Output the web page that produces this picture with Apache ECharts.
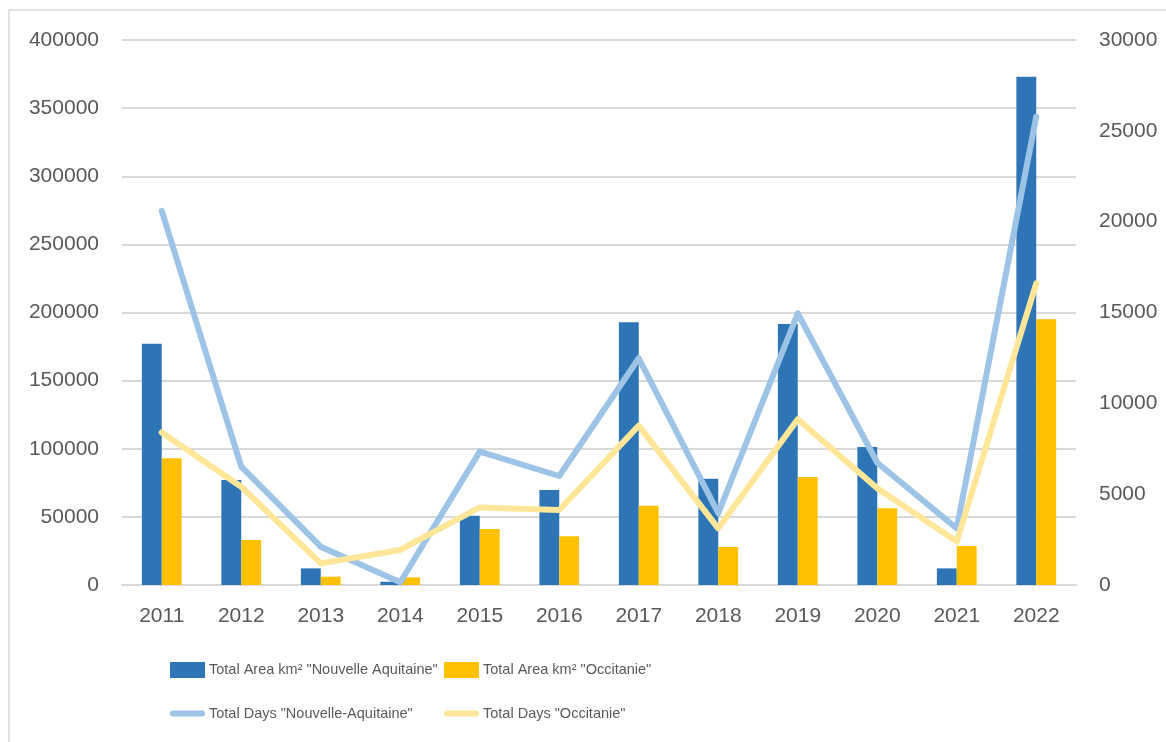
<!DOCTYPE html>
<html>
<head>
<meta charset="utf-8">
<script src="https://cdn.jsdelivr.net/npm/echarts@6/dist/echarts.min.js"></script>
<style>
html,body{margin:0;padding:0;background:#fff;}
#chart{width:1166px;height:742px;}
</style>
</head>
<body>
<div id="chart"></div>
<script>
const years = ['2011','2012','2013','2014','2015','2016','2017','2018','2019','2020','2021','2022'];
const areaNA = [177000, 77000, 12200, 2400, 50900, 69700, 192800, 78000, 191600, 101300, 12200, 373000];
const areaOcc = [93000, 33000, 6100, 5600, 41100, 35700, 58200, 27900, 79300, 56300, 28600, 195000];
const daysNA = [20600, 6510, 2110, 150, 7340, 6000, 12480, 3950, 14950, 6730, 3120, 25780];
const daysOcc = [8400, 5410, 1190, 1930, 4270, 4130, 8770, 3120, 9120, 5320, 2390, 16600];
const leftTicks = [0, 400000, 50000];
const rightTicks = [0, 30000, 5000];

const names = ['Total Area km² "Nouvelle Aquitaine"', 'Total Area km² "Occitanie"', 'Total Days "Nouvelle-Aquitaine"', 'Total Days "Occitanie"'];
const FONT = 'Liberation Sans';
const txt = {color:'#595959', fontFamily:FONT, fontSize:21};
const legTxt = {color:'#595959', fontFamily:FONT, fontSize:14.5};
const capsule = 'path://M3,0 L32,0 A3,3 0 0 1 32,6 L3,6 A3,3 0 0 1 3,0 Z';

const chart = echarts.init(document.getElementById('chart'));
function leg(name, left, top, isLine){
  return {
    data:[{name:name, icon: isLine ? capsule : 'rect'}], left:left, top:top, orient:'horizontal',
    itemWidth:35, itemHeight: isLine ? 6 : 16, itemGap:0,
    textStyle:Object.assign({}, legTxt, {padding:[0,0,0,-1]}),
    selectedMode:false, padding:0
  };
}
chart.setOption({
  animation:false,
  backgroundColor:'#fff',
  graphic:[{type:'rect', shape:{x:9, y:10, width:1300, height:900}, style:{fill:'none', stroke:'#D9D9D9', lineWidth:1.5}, silent:true}],
  grid:{left:122, right:90, top:40, bottom:157},
  legend:[
    leg(names[0], 170, 662, false),
    leg(names[1], 444, 662, false),
    leg(names[2], 170, 706, true),
    leg(names[3], 444, 706, true)
  ],
  xAxis:{
    type:'category', data:years,
    axisLine:{lineStyle:{color:'#D9D9D9', width:2}},
    axisTick:{show:false},
    axisLabel:Object.assign({}, txt, {margin:21})
  },
  yAxis:[
    {type:'value', min:leftTicks[0], max:leftTicks[1], interval:leftTicks[2],
     axisLine:{show:false}, axisTick:{show:false},
     axisLabel:Object.assign({}, txt, {margin:23, formatter:v=>String(v)}),
     splitLine:{lineStyle:{color:'#D9D9D9', width:2}}},
    {type:'value', min:rightTicks[0], max:rightTicks[1], interval:rightTicks[2], position:'right',
     axisLine:{show:false}, axisTick:{show:false},
     axisLabel:Object.assign({}, txt, {margin:23, formatter:v=>String(v)}),
     splitLine:{show:false}}
  ],
  series:[
    {name:names[0], type:'bar', data:areaNA, yAxisIndex:0, barGap:'0%', barCategoryGap:'50%',
     itemStyle:{color:'#2E75B6'}},
    {name:names[1], type:'bar', data:areaOcc, yAxisIndex:0, barGap:'0%', barCategoryGap:'50%',
     itemStyle:{color:'#FFC000'}},
    {name:names[2], type:'line', data:daysNA, yAxisIndex:1, symbol:'none',
     lineStyle:{color:'#9DC3E6', width:6, cap:'round', join:'round'}, itemStyle:{color:'#9DC3E6'}},
    {name:names[3], type:'line', data:daysOcc, yAxisIndex:1, symbol:'none',
     lineStyle:{color:'#FFE699', width:6, cap:'round', join:'round'}, itemStyle:{color:'#FFE699'}}
  ]
});
</script>
</body>
</html>
